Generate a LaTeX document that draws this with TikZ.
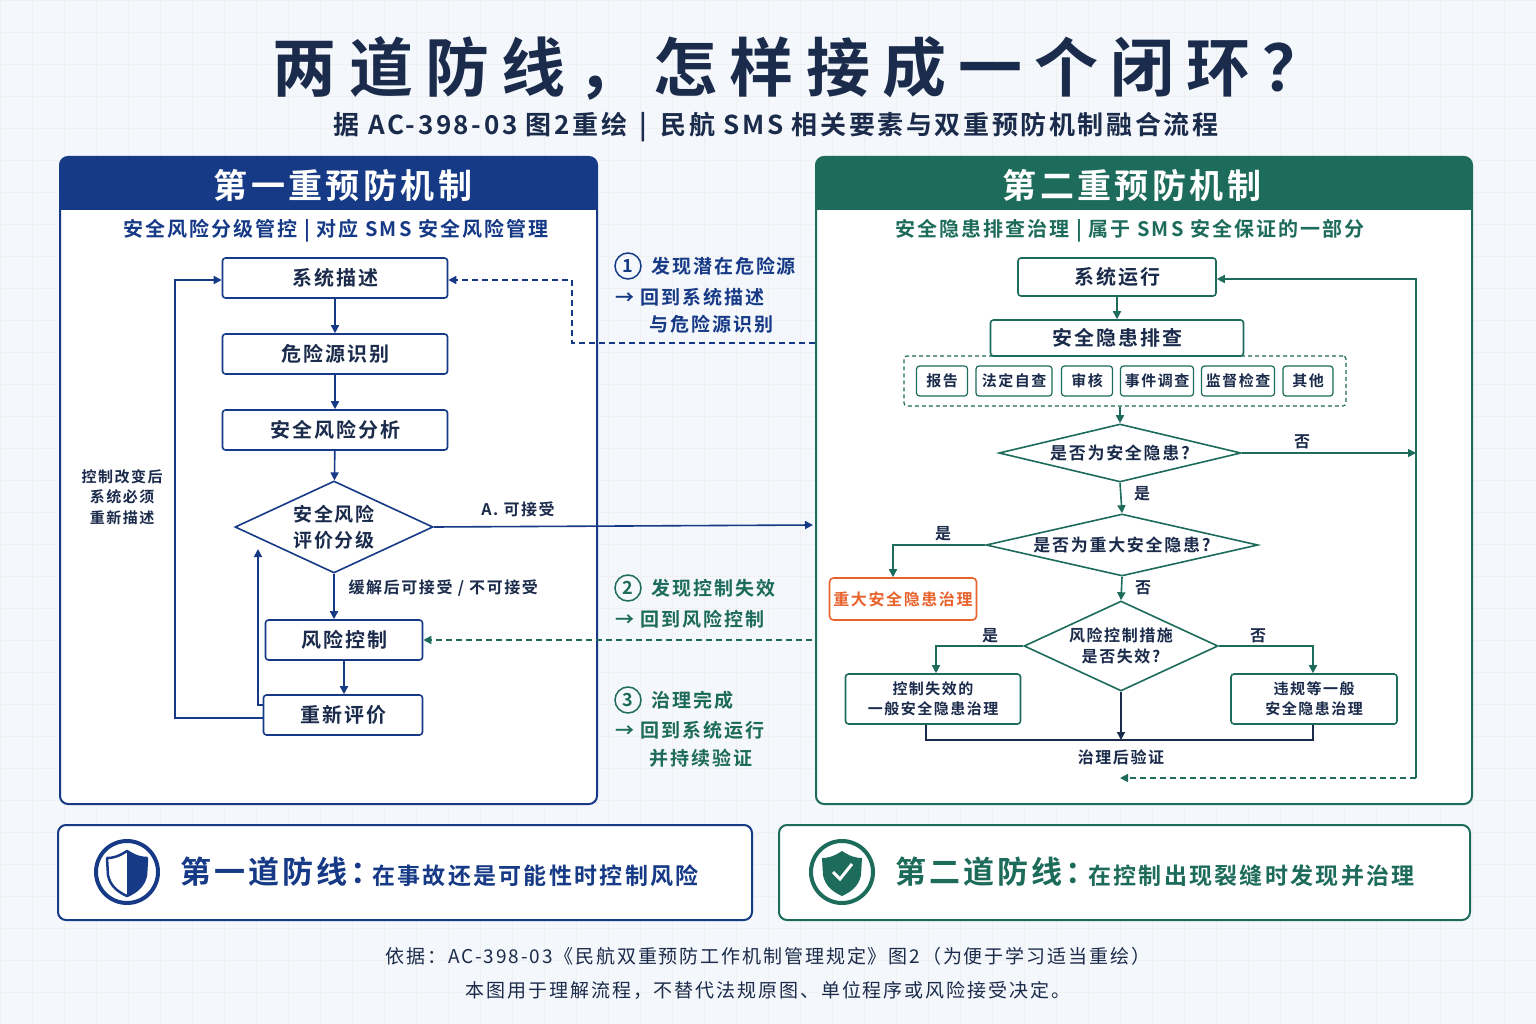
\documentclass[tikz,border=0pt]{standalone}
\usepackage{fontspec}
\setmainfont{Noto Sans CJK SC}[BoldFont={Noto Sans CJK SC Bold},LetterSpace=10]
\newfontfamily\titlefont{Noto Sans CJK SC Bold}[LetterSpace=19]
\usetikzlibrary{shapes.geometric,arrows.meta}
\definecolor{nb}{HTML}{163A86}
\definecolor{dk}{HTML}{1B2B4B}
\definecolor{gr}{HTML}{1D6B5A}
\definecolor{org}{HTML}{E8622C}
\definecolor{bg}{HTML}{F4F7FB}
\newcommand{\fs}[1]{\fontsize{#1}{1.35\dimexpr#1pt\relax}\selectfont}
\begin{document}
\begin{tikzpicture}[x=1pt,y=-1pt,
 bbox/.style={draw=nb,line width=1.6pt,rounded corners=3pt,fill=white,text=dk,font=\fs{20}\bfseries,minimum height=40pt,inner sep=0pt},
 gbox/.style={draw=gr,line width=1.6pt,rounded corners=3pt,fill=white,text=dk,font=\fs{20}\bfseries,inner sep=0pt},
 sbox/.style={draw=gr,line width=1.2pt,rounded corners=3pt,fill=white,text=dk,font=\fs{15}\bfseries,minimum height=30pt,inner sep=0pt},
 dia/.style={diamond,aspect=2.2,draw,line width=1.6pt,fill=white,text=dk,inner sep=0pt},
 ba/.style={draw=nb,line width=1.6pt,-{Triangle[length=8pt,width=8pt]}},
 ga/.style={draw=gr,line width=1.6pt,-{Triangle[length=8pt,width=8pt]}},
 lb/.style={text=dk,font=\fs{16}\bfseries},
 ann/.style={font=\fs{19}\bfseries,anchor=west}]
\useasboundingbox (0,0) rectangle (1536,1024);
\fill[bg] (0,0) rectangle (1536,1024);
\foreach \i in {0,32,...,1536} \draw[black!6,line width=0.5pt] (\i,0)--(\i,1024);
\foreach \i in {0,32,...,1024} \draw[black!6,line width=0.5pt] (0,\i)--(1536,\i);
% titles
\node[text=dk,font=\titlefont\fs{64}] (title) at (800,68) {两道防线，怎样接成一个闭环？};
\node[text=dk,font=\fs{26}\bfseries] (sub) at (776,127) {据 AC-398-03 图2重绘 \,|\, 民航 SMS 相关要素与双重预防机制融合流程};
% left panel
\draw[nb,line width=2pt,rounded corners=8pt,fill=white] (60,157) rectangle (597,804);
\fill[nb,rounded corners=8pt] (60,157) rectangle (597,210);
\fill[nb] (61,190) rectangle (596,210);
\node[text=white,font=\fs{34}\bfseries] (lt) at (343,186) {第一重预防机制};
\node[text=nb,font=\fs{20}\bfseries] (ls) at (336,231) {安全风险分级管控 | 对应 SMS 安全风险管理};
\node[bbox,minimum width=225pt] (a1) at (335,278) {系统描述};
\node[bbox,minimum width=225pt] (a2) at (335,354) {危险源识别};
\node[bbox,minimum width=225pt] (a3) at (335,430) {安全风险分析};
\node[dia,draw=nb,minimum width=198pt,minimum height=92pt,align=center,font=\fs{19}\bfseries] (a4) at (334,527) {安全风险\\评价分级};
\node[bbox,minimum width=157pt] (a5) at (344,640) {风险控制};
\node[bbox,minimum width=159pt] (a6) at (343,715) {重新评价};
\draw[ba] (a1)--(a2);
\draw[ba] (a2)--(a3);
\draw[ba] (a3)--(a4);
\draw[ba] (a4.south)--(a4.south|-a5.north);
\node[lb,anchor=west] (l1) at (345,588) {缓解后可接受 / 不可接受};
\draw[ba] (a5)--(a5|-a6.north);
\coordinate (c1) at (258,705);
\draw[ba] (a6.west|-c1)--(c1)--(258,549);
\coordinate (c2) at (175,718);
\draw[ba] (a6.west|-c2)--(c2)--(175,280)--(a1.west|-0,280);
\node[lb,align=center,font=\fs{15}\bfseries] (l2) at (122,497) {控制改变后\\系统必须\\重新描述};
\coordinate (c3) at (813,525);
\draw[ba] (a4.east)--(c3);
\node[lb] (l3) at (518,509) {A. 可接受};
\coordinate (c4) at (815,343);
\draw[nb,line width=1.6pt,dash pattern=on 6pt off 4pt,-{Triangle[length=8pt,width=8pt]}] (c4)--(572,343)--(572,280)--(a1.east|-0,280);
\coordinate (c5) at (812,640);
\draw[gr,line width=1.6pt,dash pattern=on 6pt off 4pt,-{Triangle[length=8pt,width=8pt]}] (c5)--(a5.east);
% annotations
\node[circle,draw=nb,line width=1.5pt,text=nb,font=\fs{18}\bfseries,inner sep=1pt,minimum size=26pt] (n1) at (628,266) {1};
\node[ann,text=nb] (t1) at (648,266) {发现潜在危险源};
\node[ann,text=nb] (t2) at (612,297) {→ 回到系统描述};
\node[ann,text=nb] (t3) at (646,324) {与危险源识别};
\node[circle,draw=gr,line width=1.5pt,text=gr,font=\fs{18}\bfseries,inner sep=1pt,minimum size=26pt] (n2) at (628,588) {2};
\node[ann,text=gr] (t4) at (648,588) {发现控制失效};
\node[ann,text=gr] (t5) at (612,619) {→ 回到风险控制};
\node[circle,draw=gr,line width=1.5pt,text=gr,font=\fs{18}\bfseries,inner sep=1pt,minimum size=26pt] (n3) at (628,700) {3};
\node[ann,text=gr] (t6) at (648,700) {治理完成};
\node[ann,text=gr] (t7) at (612,730) {→ 回到系统运行};
\node[ann,text=gr] (t8) at (646,758) {并持续验证};
% right panel
\draw[gr,line width=2pt,rounded corners=8pt,fill=white] (816,157) rectangle (1472,804);
\fill[gr,rounded corners=8pt] (816,157) rectangle (1472,210);
\fill[gr] (817,190) rectangle (1471,210);
\node[text=white,font=\fs{34}\bfseries] (rt) at (1132,186) {第二重预防机制};
\node[text=gr,font=\fs{20}\bfseries] (rs) at (1130,231) {安全隐患排查治理 | 属于 SMS 安全保证的一部分};
\node[gbox,minimum width=198pt,minimum height=38pt] (b1) at (1117,277) {系统运行};
\node[gbox,minimum width=253pt,minimum height=36pt] (b2) at (1117,338) {安全隐患排查};
\draw[ga] (b1)--(b2);
\node[draw=gr,line width=1.2pt,dash pattern=on 4pt off 3pt,rounded corners=3pt,minimum width=442pt,minimum height=50pt] (grp) at (1125,381) {};
\node[sbox,minimum width=51pt] (s1) at (942,381) {报告};
\node[sbox,minimum width=76pt] (s2) at (1014,381) {法定自查};
\node[sbox,minimum width=51pt] (s3) at (1087,381) {审核};
\node[sbox,minimum width=73pt] (s4) at (1157,381) {事件调查};
\node[sbox,minimum width=73pt] (s5) at (1238,381) {监督检查};
\node[sbox,minimum width=50pt] (s6) at (1308,381) {其他};
\node[dia,draw=gr,minimum width=242pt,minimum height=58pt,aspect=4.2,font=\fs{17}\bfseries] (d1) at (1120,453) {是否为安全隐患?};
\draw[ga] (1120,0|-grp.south)--(d1.north);
\coordinate (r1) at (1416,453);
\draw[ga] (d1.east)--(r1);
\node[lb] (no1) at (1302,442) {否};
\node[dia,draw=gr,minimum width=272pt,minimum height=62pt,aspect=4.4,font=\fs{17}\bfseries] (d2) at (1122,545) {是否为重大安全隐患?};
\draw[ga] (d1.south)--(d2.north);
\node[lb] (y1) at (1142,494) {是};
\node[draw=org,line width=1.6pt,rounded corners=4pt,fill=white,text=org,font=\fs{16}\bfseries,minimum width=147pt,minimum height=42pt,inner sep=0pt] (m1) at (903,599) {重大安全隐患治理};
\draw[ga] (d2.west)--(893,545)--(893,0|-m1.north);
\node[lb] (y2) at (943,534) {是};
\node[dia,draw=gr,minimum width=194pt,minimum height=90pt,align=center,font=\fs{16}\bfseries] (d3) at (1121,646) {风险控制措施\\是否失效?};
\draw[ga] (d2.south)--(d3.north);
\node[lb] (no2) at (1143,588) {否};
\node[gbox,minimum width=175pt,minimum height=50pt,align=center,font=\fs{15}\bfseries] (e1) at (933,699) {控制失效的\\一般安全隐患治理};
\node[gbox,minimum width=166pt,minimum height=50pt,align=center,font=\fs{15}\bfseries] (e2) at (1314,699) {违规等一般\\安全隐患治理};
\draw[ga] (d3.west)--(936,646)--(936,0|-e1.north);
\node[lb] (y3) at (990,636) {是};
\draw[ga] (d3.east)--(1313,646)--(1313,0|-e2.north);
\node[lb] (no3) at (1258,636) {否};
\coordinate (v) at (1121,740);
\draw[dk,line width=1.6pt,-{Triangle[length=8pt,width=8pt]}] (d3.south)--(v);
\draw[dk,line width=1.6pt] (926,0|-e1.south)--(926,740)--(1313,740)--(1313,0|-e2.south);
\node[lb] (vt) at (1121,757) {治理后验证};
\coordinate (r2) at (1416,778);
\coordinate (r3) at (1120,778);
\draw[ga] (r2)--(1416,279)--(b1.east|-0,279);
\draw[gr,line width=1.6pt,dash pattern=on 6pt off 4pt,-{Triangle[length=8pt,width=8pt]}] (r2)--(r3);
% bottom boxes
\draw[nb,line width=2pt,rounded corners=8pt,fill=white] (58,825) rectangle (752,920);
\draw[nb,line width=4pt] (127,872) circle (31);
\draw[nb,line width=2.5pt,line join=round] (127,851) .. controls (118,857) and (112,858) .. (107,858) -- (108,875) .. controls (110,886) and (118,892) .. (127,896) .. controls (136,892) and (144,886) .. (146,875) -- (147,858) .. controls (142,858) and (136,857) .. (127,851) -- cycle;
\fill[nb] (127,851) .. controls (136,857) and (142,858) .. (147,858) -- (146,875) .. controls (144,886) and (136,892) .. (127,896) -- cycle;
\node[anchor=west,text=nb,font=\fs{31}\bfseries,inner sep=0pt] (f1) at (180,872) {第一道防线：};
\node[anchor=west,text=nb,font=\fs{23}\bfseries,inner sep=0pt] (f1b) at (372,876) {在事故还是可能性时控制风险};
\draw[gr,line width=2pt,rounded corners=8pt,fill=white] (779,825) rectangle (1470,920);
\draw[gr,line width=4pt] (842,872) circle (31);
\fill[gr] (842,851) .. controls (833,857) and (827,858) .. (822,858) -- (823,875) .. controls (825,886) and (833,892) .. (842,896) .. controls (851,892) and (859,886) .. (861,875) -- (862,858) .. controls (857,858) and (851,857) .. (842,851) -- cycle;
\draw[white,line width=3pt] (833,872)--(840,879)--(852,864);
\node[anchor=west,text=gr,font=\fs{31}\bfseries,inner sep=0pt] (f2) at (895,872) {第二道防线：};
\node[anchor=west,text=gr,font=\fs{23}\bfseries,inner sep=0pt] (f2b) at (1088,876) {在控制出现裂缝时发现并治理};
% footer
\node[text=dk,font=\fs{19}] (ft1) at (768,956) {依据：AC-398-03《民航双重预防工作机制管理规定》图2（为便于学习适当重绘）};
\node[text=dk,font=\fs{19}] (ft2) at (768,990) {本图用于理解流程，不替代法规原图、单位程序或风险接受决定。};
\end{tikzpicture}
\end{document}
